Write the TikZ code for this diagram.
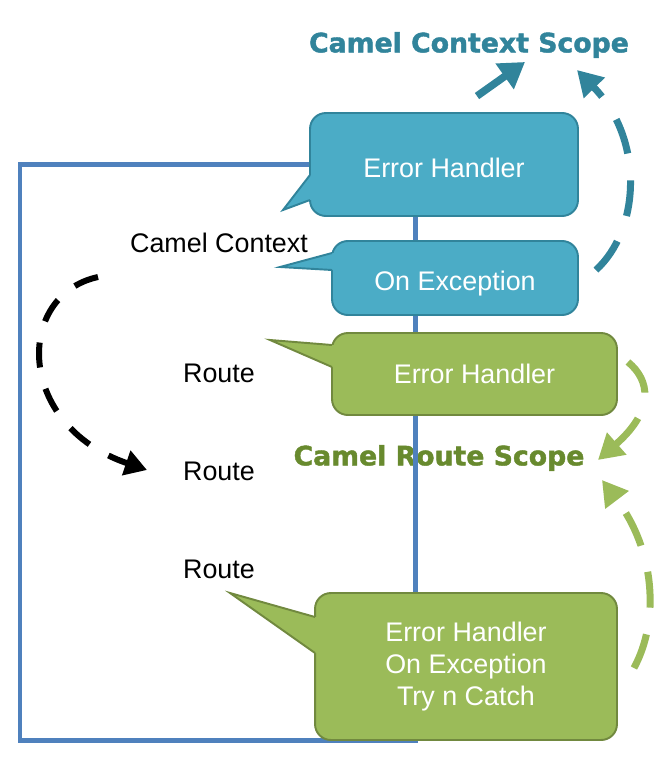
\documentclass[tikz,border=0pt]{standalone}
\usepackage{fontspec}
\setmainfont{Liberation Sans}
\newfontfamily\scopefont{DejaVu Sans}[BoldFeatures={FakeBold=1.6}]
\usetikzlibrary{arrows.meta}
\definecolor{frame}{HTML}{4F81BD}
\definecolor{ctxfill}{HTML}{4BACC6}
\definecolor{ctxline}{HTML}{31849B}
\definecolor{rtfill}{HTML}{9BBB59}
\definecolor{rtline}{HTML}{71893F}
\definecolor{rttitle}{HTML}{688A2E}

\begin{document}
\begin{tikzpicture}[x=0.02cm, y=-0.02cm,
    every node/.style={font=\fontsize{15.3}{18.4}\selectfont},
    ctxbox/.style={draw=ctxline, fill=ctxfill, line width=1.1pt, rounded corners=9pt, text=white, align=center},
    rtbox/.style={draw=rtline, fill=rtfill, line width=1.1pt, rounded corners=9pt, text=white, align=center},
    scopetitle/.style={font=\scopefont\bfseries\fontsize{15.2}{18}\selectfont},
    ctxarrow/.style={draw=ctxline, line width=0.15cm, -{Triangle[length=0.5cm,width=0.6cm]}},
    ctxdash/.style={draw=ctxline, line width=0.14cm, dash pattern=on 0.72cm off 0.54cm, -{Triangle[length=0.5cm,width=0.56cm]}},
    rtdash/.style={draw=rtfill, line width=0.14cm, dash pattern=on 0.72cm off 0.54cm, -{Triangle[length=0.5cm,width=0.56cm]}},
    flowdash/.style={draw=black, line width=0.12cm, dash pattern=on 0.5cm off 0.44cm, -{Triangle[length=0.44cm,width=0.5cm]}}]
    \useasboundingbox (0,0) rectangle (665,767);

    % scope titles
    \node[scopetitle, text=ctxline] (ctxtitle) at (469,45) {Camel Context Scope};
    \node[scopetitle, text=rttitle] (rttitle) at (439,458) {Camel Route Scope};

    % camel context frame
    \draw[frame, line width=0.1cm] (20,164) rectangle (415,740);

    % labels
    \node (ctxlbl) at (219,243) {Camel Context};
    \node (route1) at (219,373) {Route};
    \node (route2) at (219,471) {Route};
    \node (route3) at (219,569) {Route};

    % callouts
    \node[ctxbox, minimum width=5.36cm, minimum height=2.06cm, text height=14.5pt] (ctxeh) at (444,164.5) {Error Handler};
    \fill[ctxfill] (310,175) -- (283,210) -- (310,200) -- (314,200) -- (314,175) -- cycle;
    \draw[ctxline, line width=1.1pt] (310,175) -- (283,210) -- (310,200);

    \node[ctxbox, minimum width=4.92cm, minimum height=1.48cm, text height=17.5pt] (ctxoe) at (455,278) {On Exception};
    \fill[ctxfill] (332,253) -- (280,267) -- (332,270) -- (336,270) -- (336,253) -- cycle;
    \draw[ctxline, line width=1.1pt] (332,253) -- (280,267) -- (332,270);

    \node[rtbox, minimum width=5.7cm, minimum height=1.64cm] (rteh) at (474.5,374) {Error Handler};
    \fill[rtfill] (332,345) -- (270,340) -- (332,367) -- (336,367) -- (336,345) -- cycle;
    \draw[rtline, line width=1.1pt] (332,345) -- (270,340) -- (332,367);

    \node[rtbox, minimum width=6.04cm, minimum height=2.94cm] (rtall) at (466,666.5) {Error Handler\\On Exception\\Try n Catch};
    \fill[rtfill] (315,617) -- (230,593) -- (315,653) -- (319,653) -- (319,617) -- cycle;
    \draw[rtline, line width=1.1pt] (315,617) -- (230,593) -- (315,653);

    % scope arrows
    \draw[ctxarrow] ([xshift=0.66cm,yshift=0.32cm]ctxeh.north) -- ([xshift=1.12cm,yshift=-0.34cm]ctxtitle.center);
    \draw[ctxdash] ([xshift=0.34cm,yshift=0.16cm]ctxoe.east) .. controls (640,230) and (645,140) .. ([xshift=2.16cm,yshift=-0.5cm]ctxtitle.center);
    \draw[rtdash] ([xshift=0.2cm,yshift=0.24cm]rteh.east) .. controls (650,380) and (655,410) .. ([xshift=3.18cm,yshift=-0.04cm]rttitle.center);
    \draw[rtdash] ([xshift=0.32cm,yshift=-0.03cm]rtall.east) .. controls (660,620) and (655,550) .. ([xshift=3.26cm,yshift=-0.44cm]rttitle.center);
    \draw[flowdash] ([xshift=-2.42cm,yshift=-0.68cm]ctxlbl.center) .. controls (15,295) and (15,425) .. ([xshift=-1.44cm,yshift=0.02cm]route2.center);
\end{tikzpicture}
\end{document}
